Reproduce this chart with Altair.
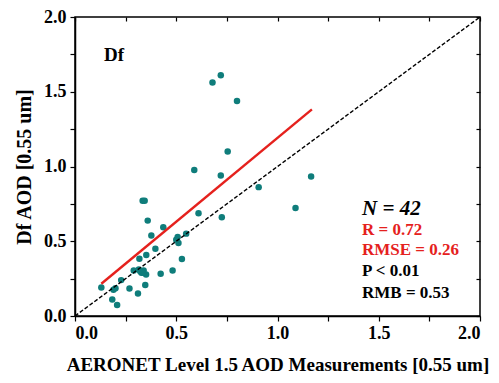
import altair as alt
import pandas as pd

# AERONET observed AOD (x) and Df estimated AOD (y)
aeronet = [0.13, 0.184, 0.19, 0.20, 0.208, 0.228, 0.269, 0.29, 0.311, 0.315,
           0.318, 0.328, 0.334, 0.344, 0.339, 0.347, 0.351, 0.352, 0.359, 0.377,
           0.397, 0.423, 0.436, 0.482, 0.507, 0.511, 0.528, 0.549, 0.589, 0.61,
           0.679, 0.72, 0.72, 0.725, 0.754, 0.80, 0.907, 1.089, 1.166,
           0.322, 0.335, 0.50]
df_aod = [0.19, 0.11, 0.175, 0.185, 0.073, 0.24, 0.184, 0.304, 0.151, 0.311,
          0.383, 0.289, 0.771, 0.771, 0.304, 0.207, 0.278, 0.408, 0.638, 0.538,
          0.45, 0.282, 0.593, 0.304, 0.529, 0.489, 0.382, 0.551, 0.976, 0.687,
          1.562, 1.611, 0.94, 0.66, 1.10, 1.438, 0.862, 0.722, 0.933,
          0.30, 0.29, 0.51]

fit_x = [0.13, 1.17]
fit_y = [0.216, 1.382]
one_x = [0.0, 2.0]
one_y = [0.0, 2.0]

ticks = [0.0, 0.25, 0.5, 0.75, 1.0, 1.25, 1.5, 1.75, 2.0]
stats = ["N = 42", "R = 0.72", "RMSE = 0.26", "P < 0.01", "RMB = 0.53"]
panel = "Df"

pts = pd.DataFrame({"x": aeronet, "y": df_aod})
fit = pd.DataFrame({"x": fit_x, "y": fit_y})
one = pd.DataFrame({"x": one_x, "y": one_y})

FONT = "Liberation Serif"
xs = alt.Scale(domain=[0, 2], nice=False)
ys = alt.Scale(domain=[0, 2], nice=False)
lab = "datum.value % 0.5 == 0 ? format(datum.value, '.1f') : ''"

main_x = alt.Axis(values=ticks, labelExpr=lab, title="AERONET Level 1.5 AOD Measurements [0.55 um]",
                  tickSize=5, labelPadding=3, titlePadding=13, titleFontSize=19, grid=False)
main_y = alt.Axis(values=ticks, labelExpr=lab, title="Df AOD [0.55 um]",
                  tickSize=5, labelPadding=4, titlePadding=9, titleFontSize=20, grid=False)

points = alt.Chart(pts).mark_circle(size=42, color="#0F7D7B", opacity=1).encode(
    x=alt.X("x:Q", scale=xs, axis=main_x),
    y=alt.Y("y:Q", scale=ys, axis=main_y),
)

top_x = alt.Axis(orient="top", values=ticks, labels=False, domain=False, tickSize=4,
                 offset=-4, title=None, grid=False)
right_y = alt.Axis(orient="right", values=ticks, labels=False, domain=False, tickSize=4,
                   offset=-4, title=None, grid=False)

oneline = alt.Chart(one).mark_line(color="black", strokeWidth=1.4, strokeDash=[4, 2]).encode(
    x=alt.X("x:Q", scale=xs, axis=top_x),
    y=alt.Y("y:Q", scale=ys, axis=right_y),
)

fitline = alt.Chart(fit).mark_line(color="#E5211D", strokeWidth=2.4).encode(
    x=alt.X("x:Q", scale=xs, axis=None),
    y=alt.Y("y:Q", scale=ys, axis=None),
)

def txt(t, x, y, size, color, italic=False):
    return alt.Chart(pd.DataFrame({"t": [t]})).mark_text(
        font=FONT, fontSize=size, fontWeight="bold", fontStyle="italic" if italic else "normal",
        color=color, align="left", baseline="middle"
    ).encode(text="t:N", x=alt.value(x), y=alt.value(y))

labels = [
    txt(panel, 29, 38, 19, "black"),
    txt(stats[0], 287, 192, 21, "black", italic=True),
    txt(stats[1], 287, 213, 17, "#E5211D"),
    txt(stats[2], 287, 233, 17, "#E5211D"),
    txt(stats[3], 287, 254, 17, "black"),
    txt(stats[4], 287, 276, 17, "black"),
]

chart = alt.layer(points, oneline, fitline, *labels).resolve_axis(
    x="independent", y="independent"
).properties(
    width=405, height=299, background="white",
    autosize=alt.AutoSizeParams(type="none"),
    padding={"left": 67, "top": 9, "right": 11, "bottom": 59}
).configure_view(
    stroke="black", strokeWidth=1.5
).configure_axis(
    labelFont=FONT, labelFontSize=18, labelFontWeight="bold", labelColor="black",
    titleFont=FONT, titleFontWeight="bold", titleColor="black",
    domainColor="black", domainWidth=1.5, tickColor="black", tickWidth=1.2
)

chart.save("out.html", embed_options={"renderer": "svg", "actions": False})
